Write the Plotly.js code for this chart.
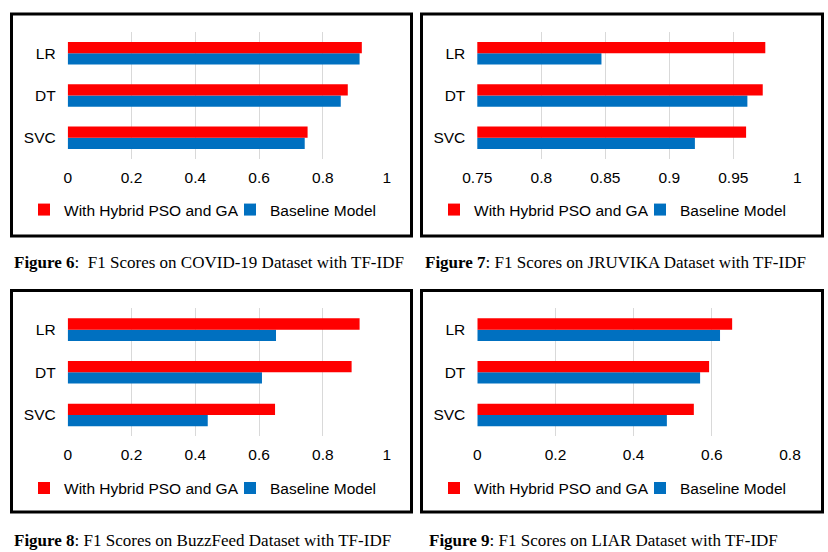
<!DOCTYPE html>
<html>
<head>
<meta charset="utf-8">
<script src="https://cdn.plot.ly/plotly-3.0.1.min.js"></script>
<style>html,body{margin:0;padding:0;background:#fff;}#chart{width:828px;height:552px;}</style>
</head>
<body>
<div id="chart"></div>
<script>
const categories = ['SVC', 'DT', 'LR'];
const seriesNames = ['With Hybrid PSO and GA', 'Baseline Model'];

const covidHybrid = [0.752, 0.878, 0.922];
const covidBaseline = [0.743, 0.856, 0.915];
const jruvikaHybrid = [0.960, 0.973, 0.975];
const jruvikaBaseline = [0.920, 0.961, 0.847];
const buzzHybrid = [0.650, 0.890, 0.915];
const buzzBaseline = [0.439, 0.609, 0.653];
const liarHybrid = [0.554, 0.593, 0.652];
const liarBaseline = [0.485, 0.570, 0.621];

const captions = [
  '<b>Figure 6</b>:&nbsp; F1 Scores on COVID-19 Dataset with TF-IDF',
  '<b>Figure 7</b>: F1 Scores on JRUVIKA Dataset with TF-IDF',
  '<b>Figure 8</b>: F1 Scores on BuzzFeed Dataset with TF-IDF',
  '<b>Figure 9</b>: F1 Scores on LIAR Dataset with TF-IDF'
];

const W = 828, H = 552;
const px = v => v / W;
const py = v => 1 - v / H;

const RED = '#FF0000', BLUE = '#0070C0';
const FONT = 'Liberation Sans, Arial, sans-serif';
const FS = 15.5;

// leg: [red text start x, blue text start x, center y] in pixels
const panels = [
  {hyb: covidHybrid, base: covidBaseline, xd: [67.7, 386.7], yd: [32, 159], range: [0, 1], dtick: 0.2,
   box: [11.5, 14, 411.5, 236], leg: [64, 270, 210], cap: [12, 262]},
  {hyb: jruvikaHybrid, base: jruvikaBaseline, xd: [477.3, 797.3], yd: [32, 159], range: [0.75, 1], dtick: 0.05,
   box: [421.5, 14, 822.5, 236], leg: [474, 680, 210], cap: [423, 262]},
  {hyb: buzzHybrid, base: buzzBaseline, xd: [67.7, 386.7], yd: [308.3, 436.3], range: [0, 1], dtick: 0.2,
   box: [11.5, 290.5, 411.5, 512], leg: [64, 270, 488.3], cap: [12, 540]},
  {hyb: liarHybrid, base: liarBaseline, xd: [477.3, 790], yd: [308.3, 436.3], range: [0, 0.8], dtick: 0.2,
   box: [421.5, 290.5, 822.5, 512], leg: [474, 680, 488.3], cap: [427, 540]}
];

const data = [];
const layout = {
  width: W, height: H,
  margin: {l: 0, r: 0, t: 0, b: 0},
  paper_bgcolor: '#fff', plot_bgcolor: 'rgba(0,0,0,0)',
  showlegend: true,
  barmode: 'group', bargap: 0.47, bargroupgap: 0,
  font: {family: FONT, size: FS, color: '#000'},
  shapes: [], annotations: []
};

const TEXT_OFFSET = 40; // distance from legend box left edge to legend text

function legendId(k) { return k === 1 ? 'legend' : 'legend' + k; }

panels.forEach((p, i) => {
  const n = i === 0 ? '' : String(i + 1);
  const xa = 'x' + n, ya = 'y' + n;
  const legRed = legendId(2 * i + 1), legBlue = legendId(2 * i + 2);
  data.push({
    type: 'bar', orientation: 'h', name: seriesNames[1],
    y: categories, x: p.base, xaxis: xa, yaxis: ya,
    marker: {color: BLUE, line: {width: 0}},
    legend: legBlue, showlegend: true, hoverinfo: 'x'
  });
  data.push({
    type: 'bar', orientation: 'h', name: seriesNames[0],
    y: categories, x: p.hyb, xaxis: xa, yaxis: ya,
    marker: {color: RED, line: {width: 0}},
    legend: legRed, showlegend: true, hoverinfo: 'x'
  });
  layout['xaxis' + n] = {
    domain: [px(p.xd[0]), px(p.xd[1])], anchor: ya,
    range: p.range, dtick: p.dtick, tick0: 0,
    showgrid: true, gridcolor: '#d9d9d9', gridwidth: 1,
    zeroline: false, showline: false, ticks: '',
    ticklabelstandoff: 7,
    tickfont: {family: FONT, size: FS, color: '#000'}, fixedrange: true
  };
  layout['yaxis' + n] = {
    domain: [py(p.yd[1]), py(p.yd[0])], anchor: xa,
    type: 'category', categoryorder: 'array', categoryarray: categories,
    showgrid: false, zeroline: false, showline: false, ticks: '',
    ticklabelstandoff: 11,
    tickfont: {family: FONT, size: FS, color: '#000'}, fixedrange: true
  };
  [[legRed, p.leg[0]], [legBlue, p.leg[1]]].forEach(([id, tx]) => {
    layout[id] = {
      visible: true,
      orientation: 'h', x: px(tx - TEXT_OFFSET), y: py(p.leg[2]),
      xanchor: 'left', yanchor: 'middle',
      font: {family: FONT, size: FS, color: '#000'},
      bgcolor: 'rgba(0,0,0,0)', borderwidth: 0
    };
  });
  layout.shapes.push({
    type: 'rect', xref: 'paper', yref: 'paper',
    x0: px(p.box[0]), x1: px(p.box[2]), y0: py(p.box[3]), y1: py(p.box[1]),
    line: {color: '#000', width: 3}, fillcolor: 'rgba(0,0,0,0)'
  });
  layout.annotations.push({
    xref: 'paper', yref: 'paper', x: px(p.cap[0]), y: py(p.cap[1]),
    xanchor: 'left', yanchor: 'middle', showarrow: false,
    text: captions[i],
    font: {family: 'Liberation Serif, Times New Roman, serif', size: 17, color: '#000'}
  });
});

Plotly.newPlot('chart', data, layout, {displayModeBar: false, staticPlot: true});
</script>
</body>
</html>
